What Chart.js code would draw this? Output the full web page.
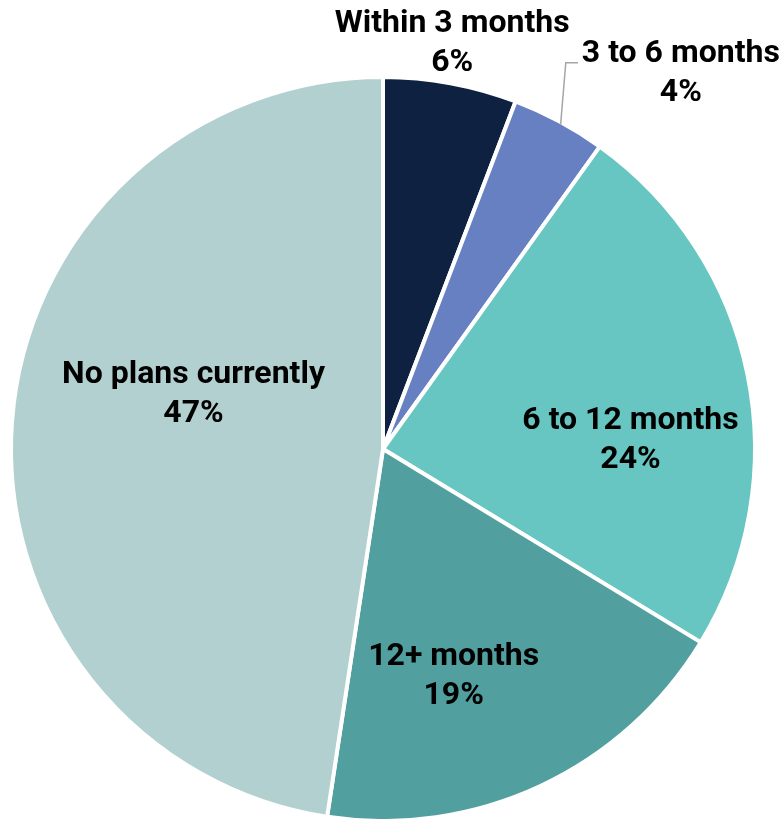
<!DOCTYPE html>
<html><head><meta charset="utf-8">
<script src="https://cdn.jsdelivr.net/npm/chart.js@4"></script>
<style>html,body{margin:0;padding:0;background:#fff}#w{width:782px;height:819px}</style>
</head><body><div id="w"><canvas id="c"></canvas></div>
<script>
const categories = ['Within 3 months', '3 to 6 months', '6 to 12 months', '12+ months', 'No plans currently'];
const values = [5.8, 4.1, 23.8, 18.7, 47.6];
const pctLabels = ['6%', '4%', '24%', '19%', '47%'];
const colors = ['#0f2141', '#6680c1', '#67c6c1', '#529fa0', '#b3d0d1'];

// label anchors relative to pie centre, as fractions of radius (x, first baseline)
const labelPlace = [
  {dx: 0.187, dy: -1.127},
  {dx: 0.805, dy: -1.046},
  {dx: 0.669, dy: -0.054},
  {dx: 0.191, dy: 0.583},
  {dx: -0.512, dy: -0.179}
];

const labelPlugin = {
  id: 'labels',
  afterDatasetsDraw(chart) {
    const ctx = chart.ctx;
    const arc0 = chart.getDatasetMeta(0).data[0];
    const cx = arc0.x, cy = arc0.y, r = arc0.outerRadius - 2;
    ctx.save();
    ctx.strokeStyle = '#a6a6a6';
    ctx.lineWidth = 1.5;
    ctx.beginPath();
    ctx.moveTo(cx + r * 0.480, cy - r * 0.876);
    ctx.lineTo(cx + r * 0.494, cy - r * 1.044);
    ctx.lineTo(cx + r * 0.527, cy - r * 1.044);
    ctx.stroke();
    ctx.fillStyle = '#000';
    ctx.font = 'bold 32px Roboto';
    ctx.textAlign = 'center';
    ctx.textBaseline = 'alphabetic';
    categories.forEach((c, i) => {
      const p = labelPlace[i];
      const x = cx + p.dx * r;
      const y = cy + p.dy * r;
      ctx.fillText(c, x, y);
      ctx.fillText(pctLabels[i], x, y + 39);
    });
    ctx.restore();
  }
};

new Chart(document.getElementById('c'), {
  type: 'pie',
  data: {
    labels: categories,
    datasets: [{data: values, backgroundColor: colors, borderColor: '#ffffff', borderWidth: 4}]
  },
  options: {
    responsive: true,
    maintainAspectRatio: false,
    animation: false,
    radius: 372,
    layout: {padding: {left: 0, right: 16, top: 79, bottom: 0}},
    plugins: {legend: {display: false}, tooltip: {enabled: false}}
  },
  plugins: [labelPlugin]
});
</script>
</body></html>
